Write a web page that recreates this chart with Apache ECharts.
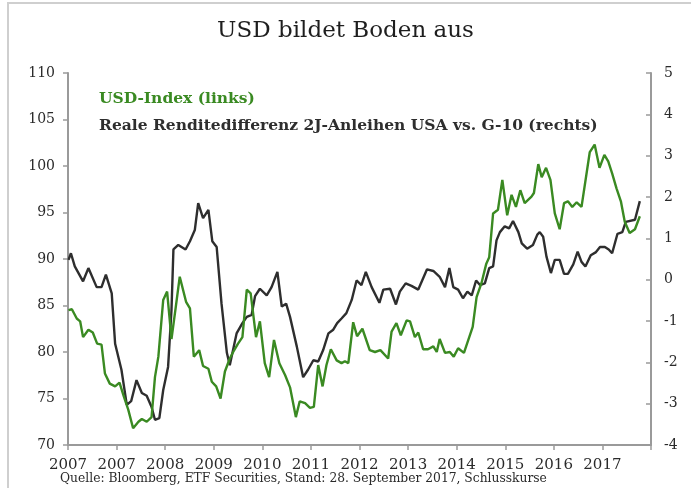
<!DOCTYPE html>
<html>
<head>
<meta charset="utf-8">
<script src="https://cdn.jsdelivr.net/npm/echarts@6/dist/echarts.min.js"></script>
<style>
  html, body { margin: 0; padding: 0; background: #fff; }
  #main { width: 691px; height: 488px; }
</style>
</head>
<body>
<div id="main"></div>
<script>
// tick labels under the x axis (the original really shows 2007 twice)
var xLabels = ['2007', '2007', '2008', '2009', '2010', '2011', '2012', '2013', '2014', '2015', '2016', '2017', ''];

// USD-Index (links): [position on the x axis, index value]
var usdIndex = [
  [0.01, 84.5], [0.08, 84.6], [0.18, 83.6], [0.25, 83.3], [0.31, 81.6], [0.42, 82.4],
  [0.51, 82.1], [0.60, 80.9], [0.69, 80.8], [0.76, 77.7], [0.86, 76.6], [0.97, 76.3],
  [1.06, 76.7], [1.15, 75.2], [1.24, 73.8], [1.34, 71.8], [1.45, 72.5], [1.52, 72.8],
  [1.62, 72.5], [1.72, 73.0], [1.79, 77.3], [1.86, 79.5], [1.96, 85.6], [2.04, 86.5],
  [2.13, 81.4], [2.22, 84.9], [2.30, 88.1], [2.43, 85.4], [2.51, 84.7], [2.59, 79.5],
  [2.70, 80.2], [2.78, 78.5], [2.89, 78.2], [2.96, 76.8], [3.05, 76.3], [3.14, 75.0],
  [3.23, 77.9], [3.33, 79.3], [3.40, 80.0], [3.50, 80.9], [3.59, 81.6], [3.68, 86.7],
  [3.76, 86.3], [3.87, 81.6], [3.95, 83.3], [4.05, 78.8], [4.14, 77.3], [4.24, 81.3],
  [4.35, 78.8], [4.47, 77.5], [4.57, 76.2], [4.69, 73.0], [4.77, 74.7], [4.88, 74.5],
  [4.98, 74.0], [5.06, 74.1], [5.15, 78.6], [5.24, 76.3], [5.32, 78.6], [5.41, 80.3],
  [5.53, 79.1], [5.63, 78.8], [5.70, 79.0], [5.77, 78.8], [5.87, 83.2], [5.95, 81.7],
  [6.06, 82.5], [6.21, 80.2], [6.32, 80.0], [6.43, 80.2], [6.59, 79.3], [6.66, 82.2],
  [6.76, 83.1], [6.85, 81.8], [6.97, 83.4], [7.04, 83.3], [7.14, 81.6], [7.21, 82.1],
  [7.31, 80.3], [7.41, 80.3], [7.52, 80.6], [7.59, 80.0], [7.65, 81.4], [7.76, 79.9],
  [7.86, 80.0], [7.94, 79.5], [8.03, 80.4], [8.15, 79.9], [8.24, 81.3], [8.33, 82.7],
  [8.41, 85.9], [8.51, 87.4], [8.61, 89.5], [8.67, 90.2], [8.75, 94.9], [8.85, 95.3],
  [8.94, 98.5], [9.04, 94.7], [9.13, 96.9], [9.22, 95.6], [9.31, 97.4], [9.40, 96.0],
  [9.54, 96.7], [9.59, 97.1], [9.68, 100.2], [9.75, 98.8], [9.84, 99.8], [9.93, 98.5],
  [10.02, 94.9], [10.12, 93.2], [10.21, 96.0], [10.29, 96.2], [10.38, 95.6], [10.47, 96.1],
  [10.57, 95.6], [10.74, 101.5], [10.84, 102.3], [10.94, 99.8], [11.04, 101.2], [11.12, 100.5],
  [11.20, 99.2], [11.29, 97.6], [11.38, 96.2], [11.46, 94.0], [11.56, 92.8], [11.67, 93.2],
  [11.77, 94.6]
];

// Reale Renditedifferenz 2J-Anleihen USA vs. G-10 (rechts), in %-Punkten
var yieldDiff = [
  [0.01, 0.48], [0.06, 0.64], [0.14, 0.32], [0.31, -0.04], [0.42, 0.28], [0.59, -0.18],
  [0.69, -0.18], [0.78, 0.12], [0.90, -0.33], [0.97, -1.55], [1.10, -2.18], [1.21, -3.03],
  [1.30, -2.94], [1.41, -2.43], [1.52, -2.74], [1.62, -2.81], [1.72, -3.08], [1.79, -3.39],
  [1.88, -3.35], [1.96, -2.67], [2.06, -2.11], [2.13, -0.74], [2.17, 0.73], [2.27, 0.84],
  [2.42, 0.73], [2.51, 0.93], [2.61, 1.20], [2.68, 1.85], [2.78, 1.49], [2.89, 1.69],
  [2.97, 0.93], [3.06, 0.79], [3.16, -0.58], [3.27, -1.77], [3.33, -2.07], [3.47, -1.30],
  [3.59, -1.05], [3.68, -0.90], [3.78, -0.85], [3.85, -0.40], [3.95, -0.22], [4.09, -0.38],
  [4.19, -0.18], [4.31, 0.19], [4.40, -0.65], [4.49, -0.58], [4.57, -0.90], [4.71, -1.62],
  [4.84, -2.36], [4.94, -2.18], [5.05, -1.95], [5.15, -1.98], [5.25, -1.71], [5.36, -1.30],
  [5.46, -1.21], [5.54, -1.05], [5.63, -0.94], [5.73, -0.81], [5.84, -0.49], [5.94, -0.02],
  [6.04, -0.13], [6.13, 0.19], [6.25, -0.18], [6.41, -0.56], [6.49, -0.24], [6.63, -0.22],
  [6.75, -0.60], [6.83, -0.29], [6.95, -0.09], [7.07, -0.15], [7.21, -0.24], [7.39, 0.25],
  [7.52, 0.21], [7.65, 0.07], [7.76, -0.18], [7.85, 0.28], [7.93, -0.18], [8.03, -0.24],
  [8.13, -0.45], [8.22, -0.29], [8.31, -0.38], [8.40, -0.02], [8.48, -0.13], [8.58, -0.09],
  [8.67, 0.28], [8.75, 0.32], [8.82, 0.95], [8.89, 1.15], [8.99, 1.29], [9.08, 1.24],
  [9.16, 1.42], [9.27, 1.15], [9.34, 0.88], [9.45, 0.75], [9.57, 0.84], [9.66, 1.09],
  [9.71, 1.15], [9.78, 1.04], [9.85, 0.55], [9.94, 0.16], [10.02, 0.48], [10.12, 0.48],
  [10.21, 0.14], [10.29, 0.14], [10.40, 0.37], [10.49, 0.68], [10.57, 0.43], [10.65, 0.32],
  [10.76, 0.59], [10.86, 0.66], [10.95, 0.79], [11.05, 0.79], [11.13, 0.73], [11.20, 0.64],
  [11.31, 1.11], [11.41, 1.15], [11.48, 1.40], [11.67, 1.45], [11.77, 1.90]
];

var SERIF = "Georgia, 'DejaVu Serif', serif";
var GREEN = '#3a8a22';
var DARK = '#2e2e2e';
var AXIS = '#9a9a9a';

var chart = echarts.init(document.getElementById('main'));

var option = {
  animation: false,
  backgroundColor: '#fff',
  textStyle: { fontFamily: SERIF },
  title: {
    text: 'USD bildet Boden aus',
    left: 'center',
    top: 15,
    textStyle: { fontFamily: SERIF, fontSize: 23, fontWeight: 'normal', color: '#1e1e1e' }
  },
  legend: {
    orient: 'vertical',
    left: 89,
    top: 86,
    icon: 'none',
    itemWidth: 0,
    itemGap: 11,
    selectedMode: false,
    textStyle: { fontFamily: SERIF, fontSize: 15.5, fontWeight: 'bold' },
    data: [
      { name: 'USD-Index (links)', textStyle: { color: GREEN } },
      { name: 'Reale Renditedifferenz 2J-Anleihen USA vs. G-10 (rechts)', textStyle: { color: DARK } }
    ]
  },
  grid: { left: 68, right: 40, top: 73, bottom: 43 },
  xAxis: {
    type: 'value',
    min: 0,
    max: 12,
    interval: 1,
    axisLine: { onZero: false, lineStyle: { color: AXIS, width: 2 } },
    axisTick: { length: 5, lineStyle: { color: AXIS, width: 1.5 } },
    axisLabel: {
      margin: 13,
      color: '#2a2a2a',
      fontFamily: SERIF,
      fontSize: 15,
      formatter: function (v) { return xLabels[Math.round(v)] || ''; }
    },
    splitLine: { show: false }
  },
  yAxis: [
    {
      type: 'value',
      min: 70,
      max: 110,
      interval: 5,
      position: 'left',
      axisLine: { show: true, onZero: false, lineStyle: { color: AXIS, width: 2 } },
      axisTick: { show: true, length: 5, lineStyle: { color: AXIS, width: 1.5 } },
      axisLabel: { margin: 13, color: '#2a2a2a', fontFamily: SERIF, fontSize: 14 },
      splitLine: { show: false }
    },
    {
      type: 'value',
      min: -4,
      max: 5,
      interval: 1,
      position: 'right',
      axisLine: { show: true, onZero: false, lineStyle: { color: AXIS, width: 2 } },
      axisTick: { show: true, inside: true, length: 5, lineStyle: { color: AXIS, width: 1.5 } },
      axisLabel: { margin: 13, color: '#2a2a2a', fontFamily: SERIF, fontSize: 14 },
      splitLine: { show: false }
    }
  ],
  graphic: [
    {
      type: 'rect',
      silent: true,
      shape: { x: 8, y: 3, width: 700, height: 500 },
      style: { fill: 'none', stroke: '#cfcfcf', lineWidth: 2 }
    },
    {
      type: 'text',
      left: 60,
      top: 473,
      style: {
        text: 'Quelle: Bloomberg, ETF Securities, Stand: 28. September 2017, Schlusskurse',
        font: '12.3px ' + SERIF,
        fill: '#2a2a2a'
      }
    }
  ],
  series: [
    {
      name: 'USD-Index (links)',
      type: 'line',
      yAxisIndex: 0,
      data: usdIndex,
      symbol: 'none',
      z: 3,
      lineStyle: { color: GREEN, width: 2.4 },
      itemStyle: { color: GREEN }
    },
    {
      name: 'Reale Renditedifferenz 2J-Anleihen USA vs. G-10 (rechts)',
      type: 'line',
      yAxisIndex: 1,
      data: yieldDiff,
      symbol: 'none',
      z: 2,
      lineStyle: { color: DARK, width: 2.4 },
      itemStyle: { color: DARK }
    }
  ]
};

chart.setOption(option);
</script>
</body>
</html>
